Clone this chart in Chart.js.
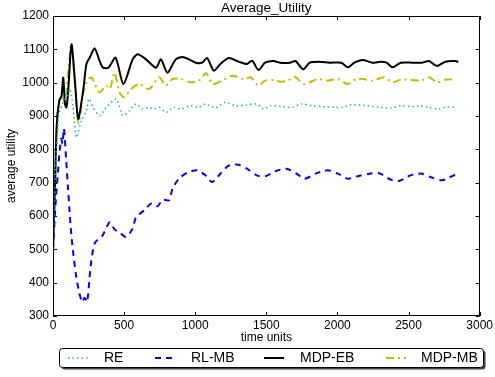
<!DOCTYPE html>
<html lang="en">
<head>
    <meta charset="UTF-8">
    <title>Average_Utility</title>
    <script src="https://cdn.jsdelivr.net/npm/chart.js@4.4.1/dist/chart.umd.min.js"></script>
    <style>
        body { margin: 0; background: #fff; }
    </style>
</head>
<body>
<div style="width: 495px;height: 377px">
    <canvas id="myChart" width="495" height="377"></canvas>
</div>

<script type="text/javascript">

    var seriesNames = ["RE", "RL-MB", "MDP-EB", "MDP-MB"];
    var xTicks = [0, 500, 1000, 1500, 2000, 2500, 3000];
    var yTicks = [300, 400, 500, 600, 700, 800, 900, 1000, 1100, 1200];

    // RE
    var reT = [0, 15, 40, 70, 100, 119, 140, 165, 200, 235, 253, 282, 328, 375, 444, 491, 537, 584, 630, 670, 712, 747, 793, 851, 900, 968, 1026, 1072, 1142, 1212, 1282, 1363, 1433, 1480, 1530, 1607, 1680, 1747, 1820, 1898, 1980, 2038, 2100, 2200, 2290, 2375, 2450, 2520, 2580, 2643, 2712, 2770, 2828];
    var reV = [480, 700, 900, 940, 960, 981, 930, 836, 886, 916, 951, 926, 901, 926, 951, 901, 916, 936, 921, 925, 921, 926, 911, 926, 921, 931, 926, 936, 924, 941, 931, 933, 936, 921, 931, 928, 926, 936, 931, 928, 926, 926, 934, 931, 926, 924, 931, 928, 930, 926, 921, 928, 926];

    // RL-MB
    var rlT = [0, 20, 35, 45, 58, 67, 77, 93, 105, 116, 128, 140, 163, 185, 205, 222, 240, 265, 293, 349, 398, 433, 475, 514, 560, 584, 642, 689, 735, 770, 816, 840, 886, 944, 1014, 1072, 1119, 1177, 1235, 1305, 1363, 1433, 1491, 1561, 1642, 1712, 1770, 1851, 1933, 2003, 2073, 2142, 2224, 2294, 2375, 2433, 2514, 2596, 2666, 2736, 2828];
    var rlV = [500, 650, 731, 787, 832, 817, 862, 766, 687, 617, 548, 497, 418, 370, 342, 355, 342, 450, 518, 542, 581, 560, 548, 537, 562, 597, 617, 637, 629, 649, 647, 682, 712, 730, 737, 722, 702, 727, 751, 754, 742, 722, 719, 734, 742, 727, 712, 728, 737, 727, 712, 719, 727, 728, 709, 705, 722, 727, 715, 707, 724];

    // MDP-EB
    var ebT = [0, 15, 26, 44, 60, 72, 84, 95, 107, 130, 155, 177, 212, 235, 258, 293, 328, 351, 390, 440, 495, 560, 595, 654, 724, 759, 805, 863, 910, 956, 1003, 1049, 1084, 1130, 1177, 1235, 1305, 1363, 1400, 1445, 1491, 1549, 1596, 1666, 1705, 1759, 1805, 1875, 1945, 2026, 2073, 2119, 2177, 2247, 2305, 2345, 2387, 2445, 2526, 2596, 2643, 2701, 2759, 2828, 2850];
    var ebV = [490, 700, 871, 946, 960, 1015, 936, 926, 976, 1115, 1000, 891, 976, 1056, 1075, 1103, 1065, 1045, 1045, 1075, 996, 1070, 1085, 1070, 1045, 1070, 1030, 1070, 1077, 1070, 1060, 1060, 1074, 1036, 1056, 1074, 1063, 1056, 1066, 1038, 1060, 1065, 1060, 1060, 1065, 1040, 1060, 1063, 1060, 1060, 1046, 1060, 1068, 1060, 1063, 1060, 1046, 1060, 1060, 1060, 1065, 1050, 1063, 1065, 1062];

    // MDP-MB
    var mbT = [0, 15, 30, 44, 60, 72, 84, 95, 128, 155, 181, 212, 240, 270, 305, 328, 375, 400, 433, 468, 502, 549, 607, 677, 747, 793, 840, 898, 968, 1026, 1077, 1123, 1188, 1258, 1340, 1390, 1445, 1490, 1549, 1600, 1650, 1700, 1759, 1805, 1863, 1930, 2003, 2073, 2131, 2180, 2247, 2329, 2387, 2445, 2526, 2590, 2643, 2701, 2760, 2828];
    var mbV = [510, 750, 900, 946, 956, 941, 960, 971, 1118, 990, 877, 966, 1006, 1016, 986, 971, 991, 981, 1030, 971, 956, 981, 996, 981, 1016, 991, 1011, 1011, 1001, 1006, 1028, 996, 1006, 1021, 1011, 1016, 991, 1006, 1008, 1003, 1006, 1018, 996, 1001, 1011, 1006, 1011, 996, 1011, 1011, 1006, 1016, 1001, 1009, 1008, 1006, 1016, 1001, 1009, 1011];

    function pts(t, v) {
        var out = [];
        for (var i = 0; i < t.length; i++) out.push({x: t[i], y: v[i]});
        return out;
    }

    var FONT = "'Liberation Sans', Arial, sans-serif";

    var extras = {
        id: "extras",
        afterDraw: function (chart) {
            var ctx = chart.ctx;
            var a = chart.chartArea;
            var xs = chart.scales.x, ys = chart.scales.y;
            ctx.save();
            // frame
            ctx.strokeStyle = "#000";
            ctx.lineWidth = 1;
            ctx.strokeRect(Math.round(a.left) + 0.5, Math.round(a.top) + 0.5, Math.round(a.right - a.left) - 1, Math.round(a.bottom - a.top) - 1);
            // inward ticks
            ctx.beginPath();
            xTicks.forEach(function (t) {
                var px = Math.round(xs.getPixelForValue(t)) + 0.5;
                ctx.moveTo(px, a.bottom); ctx.lineTo(px, a.bottom - 4);
                ctx.moveTo(px, a.top); ctx.lineTo(px, a.top + 4);
            });
            yTicks.forEach(function (t) {
                var py = Math.round(ys.getPixelForValue(t)) + 0.5;
                ctx.moveTo(a.left, py); ctx.lineTo(a.left + 4, py);
                ctx.moveTo(a.right, py); ctx.lineTo(a.right - 4, py);
            });
            ctx.stroke();

            // titles
            ctx.fillStyle = "#000";
            ctx.textAlign = "center";
            ctx.textBaseline = "middle";
            ctx.font = "13.5px " + FONT;
            ctx.fillText("Average_Utility", (a.left + a.right) / 2, 8);
            ctx.font = "12px " + FONT;
            ctx.fillText("time units", (a.left + a.right) / 2, 338);
            ctx.save();
            ctx.translate(12, (a.top + a.bottom) / 2);
            ctx.rotate(-Math.PI / 2);
            ctx.fillText("average utility", 0, 0);
            ctx.restore();

            // legend box
            var bx = 59.5, by = 348.5, bw = 424, bh = 19, r = 3;
            function rr(x, y) {
                ctx.beginPath();
                ctx.moveTo(x + r, y);
                ctx.lineTo(x + bw - r, y);
                ctx.arcTo(x + bw, y, x + bw, y + r, r);
                ctx.lineTo(x + bw, y + bh - r);
                ctx.arcTo(x + bw, y + bh, x + bw - r, y + bh, r);
                ctx.lineTo(x + r, y + bh);
                ctx.arcTo(x, y + bh, x, y + bh - r, r);
                ctx.lineTo(x, y + r);
                ctx.arcTo(x, y, x + r, y, r);
                ctx.closePath();
            }
            rr(bx + 2, by + 2);
            ctx.fillStyle = "#444";
            ctx.fill();
            rr(bx, by);
            ctx.fillStyle = "#fff";
            ctx.fill();
            ctx.strokeStyle = "#000";
            ctx.stroke();

            var sampleX = [68, 155, 264, 386];
            var textX = [104, 191, 300, 421];
            var ly = 358;
            ctx.font = "14px " + FONT;
            ctx.textAlign = "left";
            chart.data.datasets.forEach(function (ds, i) {
                ctx.save();
                ctx.strokeStyle = ds.borderColor;
                ctx.lineWidth = ds.borderWidth;
                ctx.setLineDash(ds.borderDash || []);
                ctx.beginPath();
                ctx.moveTo(sampleX[i], ly);
                ctx.lineTo(sampleX[i] + 20, ly);
                ctx.stroke();
                ctx.restore();
                ctx.fillStyle = "#000";
                ctx.fillText(ds.label, textX[i], ly);
            });
            ctx.restore();
        }
    };

    var ctx1 = document.getElementById("myChart");

    new Chart(ctx1, {
        "type": "line",
        "data": {
            "datasets": [{
                "label": seriesNames[0],
                "data": pts(reT, reV),
                "borderColor": "#00bfbf",
                "borderWidth": 1.5,
                "borderDash": [1.5, 3],
                "tension": 0.25
            }, {
                "label": seriesNames[1],
                "data": pts(rlT, rlV),
                "borderColor": "#0000ff",
                "borderWidth": 2,
                "borderDash": [6, 5],
                "tension": 0.25
            }, {
                "label": seriesNames[2],
                "data": pts(ebT, ebV),
                "borderColor": "#000000",
                "borderWidth": 2,
                "borderDash": [],
                "tension": 0.25
            }, {
                "label": seriesNames[3],
                "data": pts(mbT, mbV),
                "borderColor": "#bfbf00",
                "borderWidth": 2,
                "borderDash": [8, 4, 2, 4],
                "tension": 0.25
            }]
        },
        "options": {
            "responsive": false,
            "animation": false,
            "layout": {"padding": {"top": 16, "right": 11, "left": 0, "bottom": 0}},
            "elements": {"point": {"radius": 0}},
            "plugins": {
                "legend": {"display": false},
                "title": {"display": false},
                "tooltip": {"enabled": false}
            },
            "scales": {
                "x": {
                    "type": "linear",
                    "min": 0,
                    "max": 3000,
                    "afterBuildTicks": function (s) { s.ticks = xTicks.map(function (v) { return {value: v}; }); },
                    "afterFit": function (s) { s.height = 61; },
                    "grid": {"display": false, "drawTicks": false},
                    "border": {"display": false},
                    "ticks": {"color": "#000", "padding": 2, "maxRotation": 0, "font": {"size": 12, "family": FONT},
                        "callback": function (v) { return String(v); }}
                },
                "y": {
                    "min": 300,
                    "max": 1200,
                    "afterBuildTicks": function (s) { s.ticks = yTicks.map(function (v) { return {value: v}; }); },
                    "afterFit": function (s) { s.width = 53; },
                    "grid": {"display": false, "drawTicks": false},
                    "border": {"display": false},
                    "ticks": {"color": "#000", "padding": 4, "font": {"size": 12, "family": FONT},
                        "callback": function (v) { return String(v); }}
                }
            }
        },
        "plugins": [extras]
    });
</script>

</body>
</html>
